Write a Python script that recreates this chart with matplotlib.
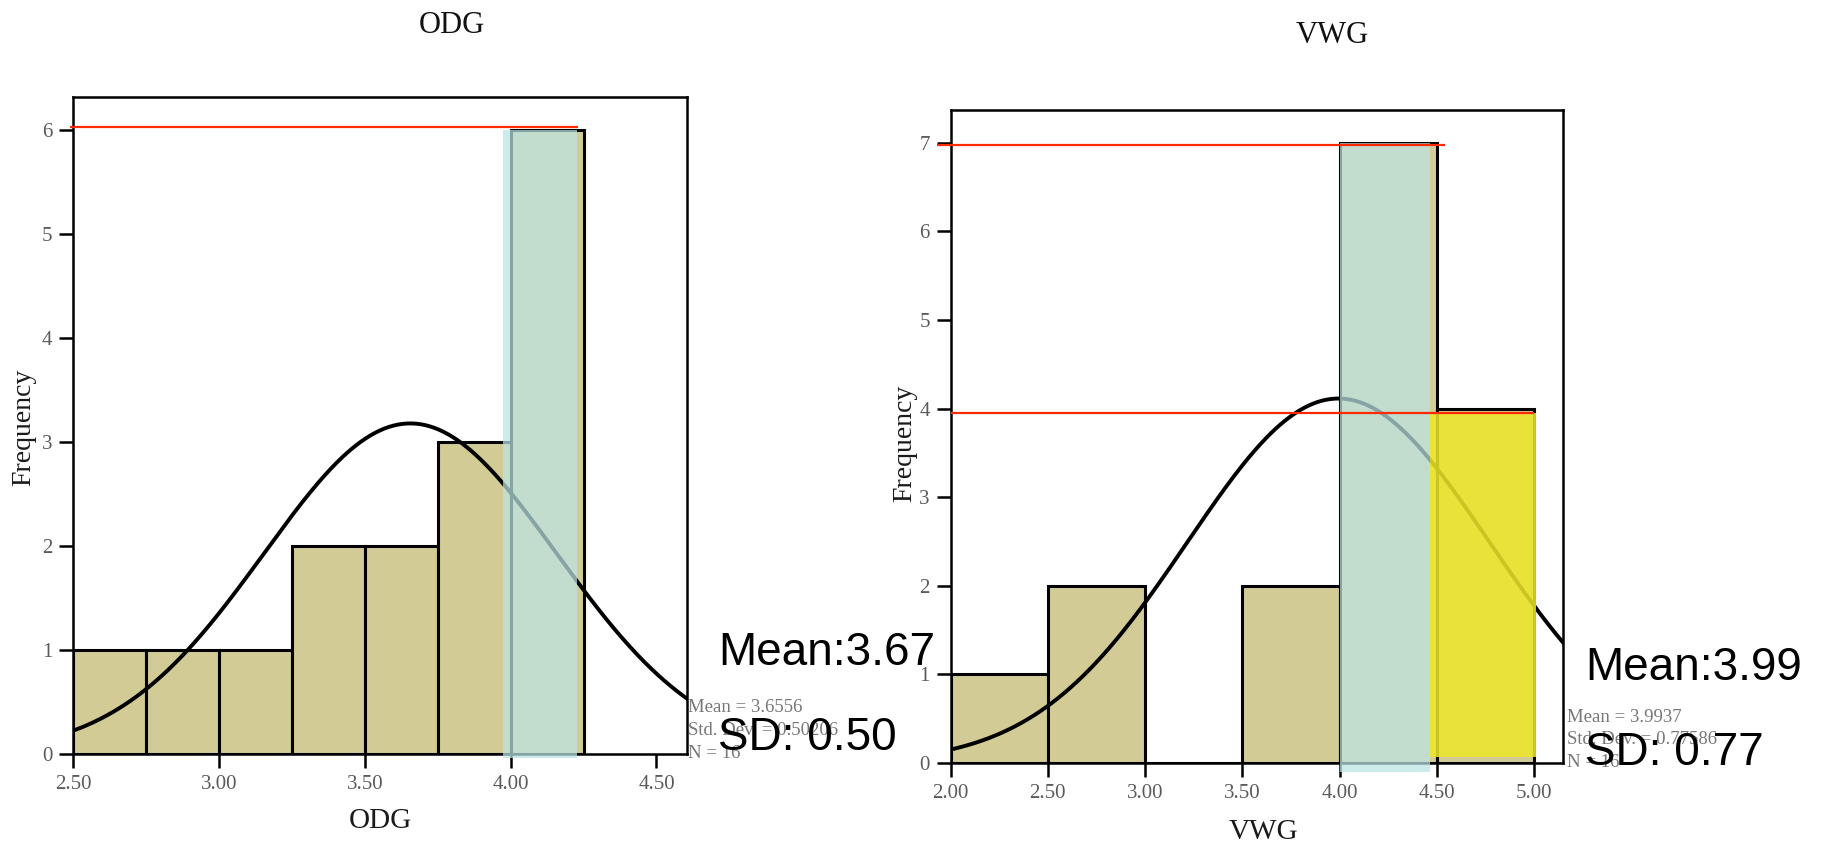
import numpy as np
import matplotlib
matplotlib.use("Agg")
import matplotlib.pyplot as plt

# ---------------- data ----------------
odg_edges = [2.50, 2.75, 3.00, 3.25, 3.50, 3.75, 4.00, 4.25]
odg_counts = [1, 1, 1, 2, 2, 3, 6]
odg_mean, odg_sd, odg_n = 3.6556, 0.50206, 16

vwg_edges = [2.00, 2.50, 3.00, 3.50, 4.00, 4.50, 5.00]
vwg_counts = [1, 2, 0, 2, 7, 4]
vwg_mean, vwg_sd, vwg_n = 3.9937, 0.77586, 16

odg_xticks = [2.50, 3.00, 3.50, 4.00, 4.50]
vwg_xticks = [2.00, 2.50, 3.00, 3.50, 4.00, 4.50, 5.00]
odg_yticks = [0, 1, 2, 3, 4, 5, 6]
vwg_yticks = [0, 1, 2, 3, 4, 5, 6, 7]

# highlight annotations (x0, x1, y0, y1)
odg_blue = (3.974, 4.228, -0.04, 6.0)
vwg_blue = (4.003, 4.466, -0.10, 7.0)
vwg_yellow = (4.466, 5.01, 0.07, 3.95)
# red reference lines (y, x0, x1)
odg_red = [(6.03, 2.488, 4.23)]
vwg_red = [(6.97, 1.93, 4.54), (3.95, 2.00, 5.00)]

odg_labels = ("Mean:3.67", "SD: 0.50")
vwg_labels = ("Mean:3.99", "SD: 0.77")

# ---------------- style ----------------
SERIF = ["Liberation Serif", "DejaVu Serif"]
SANS = ["Liberation Sans", "DejaVu Sans"]
TAN = "#d3cb96"
BLUE = "#bce4e5"
YELLOW = "#ede72a"
RED = "#ff2a00"

fig = plt.figure(figsize=(18.27, 8.43), dpi=100)
ax1 = fig.add_axes([0.04017, 0.1056, 0.3359, 0.7797])
ax2 = fig.add_axes([0.5203, 0.0949, 0.3352, 0.7746])


def draw(ax, edges, counts, mean, sd, n, xlim, ylim, xticks, yticks):
    edges = np.asarray(edges)
    widths = np.diff(edges)
    ax.bar(edges[:-1], counts, width=widths, align="edge", color=TAN,
           edgecolor="black", linewidth=2.2, zorder=2)
    bw = widths[0]
    xs = np.linspace(xlim[0], xlim[1], 400)
    ys = n * bw * np.exp(-0.5 * ((xs - mean) / sd) ** 2) / (sd * np.sqrt(2 * np.pi))
    ax.plot(xs, ys, color="black", lw=2.8, zorder=3)
    ax.set_xlim(*xlim)
    ax.set_ylim(*ylim)
    ax.set_xticks(xticks)
    ax.set_xticklabels([f"{t:.2f}" for t in xticks])
    ax.set_yticks(yticks)
    ax.set_yticklabels([str(t) for t in yticks])
    for s in ax.spines.values():
        s.set_linewidth(1.8)
        s.set_color("black")
    ax.tick_params(direction="out", length=10, width=1.8, color="black",
                   labelcolor="#5a5a5a", labelsize=15, pad=5)
    for lab in ax.get_xticklabels() + ax.get_yticklabels():
        lab.set_family(SERIF)


draw(ax1, odg_edges, odg_counts, odg_mean, odg_sd, odg_n, (2.5, 4.605), (0, 6.32),
     odg_xticks, odg_yticks)
draw(ax2, vwg_edges, vwg_counts, vwg_mean, vwg_sd, vwg_n, (2.0, 5.148), (0, 7.37),
     vwg_xticks, vwg_yticks)


def span(ax, box, color, alpha):
    x0, x1, y0, y1 = box
    ax.fill_between([x0, x1], [y0, y0], [y1, y1], color=color, alpha=alpha,
                    linewidth=0, zorder=4, clip_on=False)


span(ax1, odg_blue, BLUE, 0.72)
span(ax2, vwg_blue, BLUE, 0.72)
span(ax2, vwg_yellow, YELLOW, 0.86)

for ax, reds in ((ax1, odg_red), (ax2, vwg_red)):
    for y, x0, x1 in reds:
        ax.hlines(y, x0, x1, color=RED, lw=1.6, zorder=5, clip_on=False)

# titles / axis labels
fig.text(0.2474, 0.9609, "ODG", family=SERIF, fontsize=22,
         color="#111111", ha="center", va="baseline")
fig.text(0.7291, 0.9490, "VWG", family=SERIF, fontsize=22,
         color="#111111", ha="center", va="baseline")
fig.text(0.2080, 0.0178, "ODG", family=SERIF, fontsize=21,
         color="#1a1a1a", ha="center", va="baseline")
fig.text(0.6915, 0.0045, "VWG", family=SERIF, fontsize=21,
         color="#1a1a1a", ha="center", va="baseline")
fig.text(0.0131, 0.4935, "Frequency", family=SERIF, fontsize=20,
         color="#1a1a1a", rotation=90, ha="center", va="center")
fig.text(0.4950, 0.4740, "Frequency", family=SERIF, fontsize=20,
         color="#1a1a1a", rotation=90, ha="center", va="center")

# SPSS stats text
for x, ys, m, s, n in ((0.3766, (0.1554, 0.1281, 0.1008), odg_mean, odg_sd, odg_n),
                       (0.8577, (0.1435, 0.1174, 0.0902), vwg_mean, vwg_sd, vwg_n)):
    for y, t in zip(ys, (f"Mean = {m:.4f}", f"Std. Dev. = {s:.5f}", f"N = {n}")):
        fig.text(x, y, t, family=SERIF, fontsize=13.5, color="#777777",
                 ha="left", va="baseline")

# big annotations
fig.text(0.3930, 1 - 665 / 843, odg_labels[0], family=SANS, fontsize=33,
         color="black", ha="left", va="baseline")
fig.text(0.3930, 1 - 750 / 843, odg_labels[1], family=SANS, fontsize=33,
         color="black", ha="left", va="baseline")
fig.text(0.8675, 1 - 680 / 843, vwg_labels[0], family=SANS, fontsize=33,
         color="black", ha="left", va="baseline")
fig.text(0.8675, 1 - 765 / 843, vwg_labels[1], family=SANS, fontsize=33,
         color="black", ha="left", va="baseline")

fig.savefig("out.png", dpi=100)
